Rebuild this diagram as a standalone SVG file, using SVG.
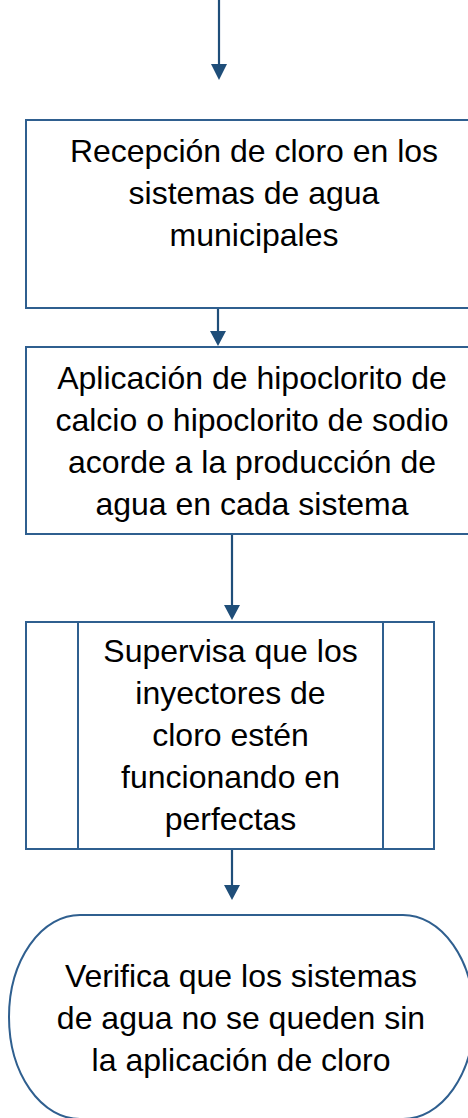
<svg xmlns="http://www.w3.org/2000/svg" width="468" height="1118" viewBox="0 0 468 1118">
<style>
.box{fill:#ffffff;stroke:#2f5f8f;stroke-width:2}
.t{font-family:"Liberation Sans",Arial,sans-serif;font-size:32px;fill:#000000;text-anchor:middle}
.ln{stroke:#1f4e79;stroke-width:2.2;fill:none}
.hd{fill:#1f4e79}
</style>
<rect width="468" height="1118" fill="#ffffff"/>
<g id="connectors">
<line class="ln" x1="219" y1="0" x2="219" y2="66"/>
<polygon class="hd" points="211,64 227,64 219,80"/>
<line class="ln" x1="218" y1="308" x2="218" y2="333"/>
<polygon class="hd" points="210,331 226,331 218,346"/>
<line class="ln" x1="232" y1="534" x2="232" y2="607"/>
<polygon class="hd" points="224,605 240,605 232,620"/>
<line class="ln" x1="232" y1="849" x2="232" y2="887"/>
<polygon class="hd" points="224,885 240,885 232,900"/>
</g>
<g id="n1">
<rect class="box" x="26" y="120" width="454" height="188"/>
<text class="t" x="254" y="162">Recepción de cloro en los</text>
<text class="t" x="254" y="204">sistemas de agua</text>
<text class="t" x="254" y="246">municipales</text>
</g>
<g id="n2">
<rect class="box" x="26" y="347" width="454" height="187"/>
<text class="t" x="252" y="389">Aplicación de hipoclorito de</text>
<text class="t" x="252" y="431">calcio o hipoclorito de sodio</text>
<text class="t" x="252" y="473">acorde a la producción de</text>
<text class="t" x="252" y="515">agua en cada sistema</text>
</g>
<g id="n3">
<rect class="box" x="26" y="622" width="408" height="227"/>
<line class="box" x1="78" y1="622" x2="78" y2="849"/>
<line class="box" x1="383" y1="622" x2="383" y2="849"/>
<text class="t" x="230.5" y="662">Supervisa que los</text>
<text class="t" x="230.5" y="704">inyectores de</text>
<text class="t" x="230.5" y="746">cloro estén</text>
<text class="t" x="230.5" y="788">funcionando en</text>
<text class="t" x="230.5" y="830">perfectas</text>
</g>
<g id="n4">
<rect class="box" x="9" y="915" width="465" height="204" rx="71" ry="102"/>
<text class="t" x="241" y="987">Verifica que los sistemas</text>
<text class="t" x="241" y="1029">de agua no se queden sin</text>
<text class="t" x="241" y="1071">la aplicación de cloro</text>
</g>
</svg>
